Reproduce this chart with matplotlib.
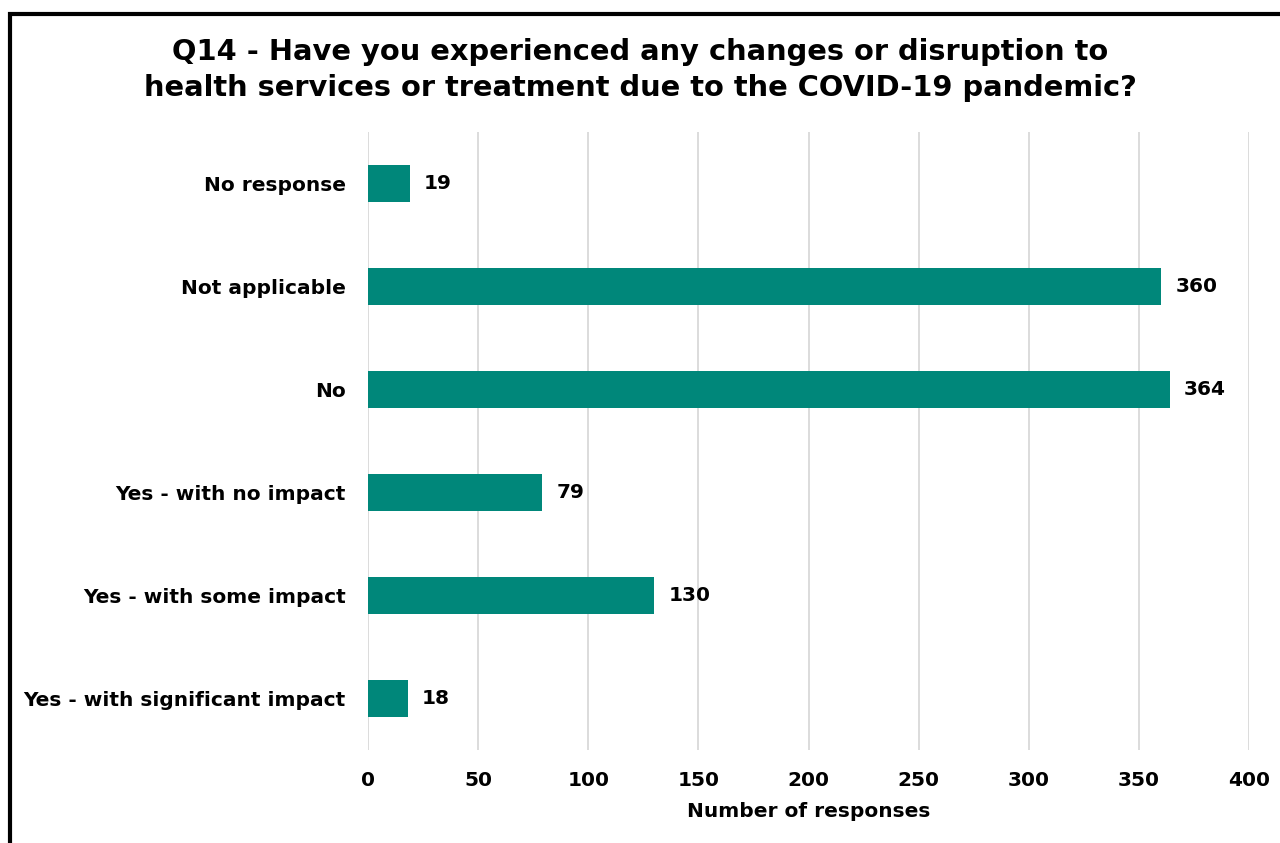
import matplotlib.pyplot as plt
from matplotlib.patches import Rectangle

# 数据
categories = ['Yes - with significant impact', 'Yes - with some impact', 'Yes - with no impact',
              'No', 'Not applicable', 'No response']
responses = [18, 130, 79, 364, 360, 19]
xticks = [0, 50, 100, 150, 200, 250, 300, 350, 400]

plt.rcParams['font.family'] = ['DejaVu Sans']
plt.rcParams['font.weight'] = 'bold'

fig = plt.figure(figsize=(12.8, 8.43), dpi=100)
ax = fig.add_axes([0.2875, 0.1103, 0.6883, 0.7331])

bar_color = '#00877a'
ax.barh(range(len(categories)), responses, height=0.35, color=bar_color, zorder=3)
for i, v in enumerate(responses):
    ax.text(v + 6.5, i, str(v), va='center', ha='left', fontsize=14.5, fontweight='bold', color='black')

ax.set_xlim(0, 400)
ax.set_ylim(-0.5, 5.5)
ax.set_xticks(xticks)
ax.set_xticklabels([str(t) for t in xticks], fontsize=14.5, fontweight='bold')
ax.set_yticks(range(len(categories)))
ax.set_yticklabels(categories, fontsize=14.5, fontweight='bold')
ax.tick_params(axis='both', length=0)
ax.tick_params(axis='y', pad=16)
ax.tick_params(axis='x', pad=15)
ax.grid(axis='x', color='#d9d9d9', linewidth=1.3, zorder=0)
for s in ax.spines.values():
    s.set_visible(False)

ax.set_xlabel('Number of responses', fontsize=14.5, fontweight='bold', labelpad=9)

fig.text(0.5, 0.917, 'Q14 - Have you experienced any changes or disruption to\n'
         'health services or treatment due to the COVID-19 pandemic?',
         ha='center', va='center', fontsize=20.8, fontweight='bold', linespacing=1.35)

# 外框（左侧和顶部）
fig.add_artist(Rectangle((10 / 1280, -0.1), 1.2, 1.1 - 14 / 843, transform=fig.transFigure,
                         fill=False, edgecolor='black', linewidth=3))

fig.savefig('out.png', dpi=100)
